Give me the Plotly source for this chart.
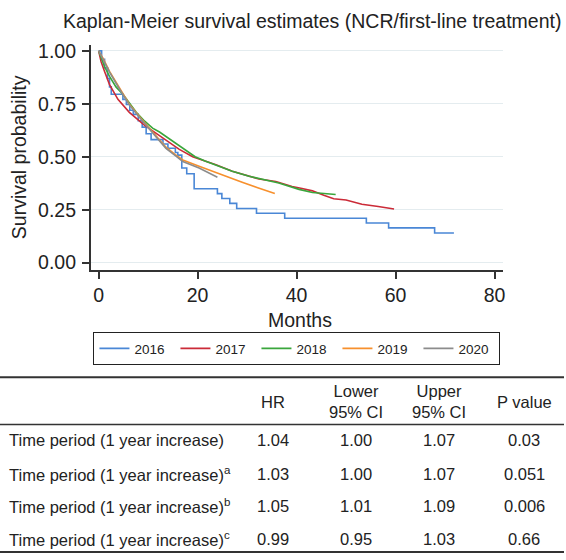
import plotly.graph_objects as go

W, H = 566, 560
FONT = "Liberation Sans, Arial, Helvetica, sans-serif"

# ---------------- data ----------------
years = ["2016", "2017", "2018", "2019", "2020"]
colors = ["#4a87d6", "#cb2b38", "#3aa63c", "#f7902d", "#8c8c8c"]

t_2016 = [0, 0.6, 1.2, 1.8, 2.2, 2.55, 4.9, 5.6, 6.3, 7.0, 8.0, 8.8, 9.6, 10.6, 13.0, 14.0, 15.5, 16.0,
          16.8, 17.8, 19.3, 24.0, 24.9, 26.5, 27.9, 31.9, 37.6, 54.1, 58.6, 67.9, 71.8]
s_2016 = [1.0, 0.96, 0.92, 0.87, 0.83, 0.795, 0.771, 0.747, 0.72, 0.70, 0.67, 0.64, 0.609, 0.581, 0.56,
          0.54, 0.52, 0.508, 0.447, 0.42, 0.349, 0.326, 0.303, 0.28, 0.256, 0.233, 0.21, 0.187, 0.164,
          0.14, 0.14]

t_2017 = [0, 0.5, 1.2, 2.2, 3.9, 6.2, 9.3, 11.6, 13.6, 16.3, 19.0, 22.4, 23.7, 27.0, 30.4, 32.4,
          35.8, 39.1, 41.1, 43.2, 45.5, 47.5, 50.0, 53.2, 56.5, 59.7]
s_2017 = [1.0, 0.949, 0.903, 0.841, 0.771, 0.71, 0.648, 0.61, 0.578, 0.535, 0.50, 0.475, 0.462, 0.432,
          0.408, 0.395, 0.383, 0.36, 0.35, 0.339, 0.318, 0.302, 0.296, 0.276, 0.265, 0.253]

t_2018 = [0, 0.5, 1.2, 2.2, 3.5, 4.9, 6.2, 7.6, 9.3, 10.9, 12.3, 14.3, 16.3, 18.0, 19.5, 21.5, 23.7,
          27.0, 30.4, 33.5, 36.4, 40.5, 43.2, 47.9]
s_2018 = [1.0, 0.965, 0.925, 0.88, 0.83, 0.795, 0.752, 0.71, 0.668, 0.635, 0.617, 0.585, 0.555, 0.525,
          0.50, 0.48, 0.462, 0.432, 0.408, 0.39, 0.376, 0.346, 0.331, 0.322]

t_2019 = [0, 0.9, 2.2, 4.2, 6.2, 8.9, 11.5, 13.6, 15.5, 17.0, 20.3, 23.7, 27.0, 29.0, 32.0, 35.6]
s_2019 = [1.0, 0.965, 0.903, 0.826, 0.748, 0.671, 0.60, 0.545, 0.51, 0.485, 0.455, 0.425, 0.395, 0.38,
          0.355, 0.326]

t_2020 = [0, 0.9, 2.2, 4.2, 6.2, 8.9, 11.5, 13.6, 15.5, 17.0, 20.3, 22.0, 24.0]
s_2020 = [1.0, 0.96, 0.90, 0.82, 0.745, 0.668, 0.60, 0.54, 0.505, 0.478, 0.447, 0.425, 0.403]

times = [t_2016, t_2017, t_2018, t_2019, t_2020]
survs = [s_2016, s_2017, s_2018, s_2019, s_2020]
shapes_line = ["hv", "linear", "linear", "linear", "linear"]

x_ticks = [0, 20, 40, 60, 80]
y_ticks = [0, 0.25, 0.5, 0.75, 1.0]

table_header = ["HR", "Lower<br>95% CI", "Upper<br>95% CI", "P value"]
row_labels = ["Time period (1 year increase)",
              "Time period (1 year increase)<sup>a</sup>",
              "Time period (1 year increase)<sup>b</sup>",
              "Time period (1 year increase)<sup>c</sup>"]
hr = ["1.04", "1.03", "1.05", "0.99"]
lower_ci = ["1.00", "1.00", "1.01", "0.95"]
upper_ci = ["1.07", "1.07", "1.09", "1.03"]
p_value = ["0.03", "0.051", "0.006", "0.66"]


# ---------------- helpers (pixel -> paper) ----------------
def X(px):
    return px / W


def Y(py):
    return 1 - py / H


fig = go.Figure()
for yr, c, t, s, sh in zip(years, colors, times, survs, shapes_line):
    fig.add_trace(go.Scatter(x=t, y=s, mode="lines", name=yr,
                             line=dict(color=c, width=1.6, shape=sh)))

axis_col = "#333333"
txt_col = "#222222"
fig.update_layout(
    width=W, height=H,
    margin=dict(l=0, r=0, t=0, b=0),
    paper_bgcolor="white", plot_bgcolor="white",
    font=dict(family=FONT, color=txt_col),
    showlegend=True,
    legend=dict(orientation="h", x=X(298), xanchor="center", y=Y(332), yanchor="top",
                bordercolor="#222222", borderwidth=1, font=dict(size=13.5, family=FONT),
                itemwidth=30, entrywidth=36, entrywidthmode="pixels", tracegroupgap=0,
                bgcolor="white"),
    xaxis=dict(domain=[X(91), X(505)], range=[-1.61, 81.76], tickvals=x_ticks,
               showgrid=False, zeroline=False, showline=True, linecolor=axis_col, linewidth=1.5,
               ticks="outside", ticklen=7, tickwidth=1.5, tickcolor=axis_col,
               tickfont=dict(size=19.5, family=FONT, color=txt_col), ticklabelstandoff=0),
    yaxis=dict(domain=[Y(268.7), Y(40)], range=[-0.0343, 1.0265], tickvals=y_ticks,
               tickformat=".2f", showgrid=True, gridcolor="#e4ecef", gridwidth=1,
               zeroline=False, showline=True, linecolor=axis_col, linewidth=1.5,
               ticks="outside", ticklen=7, tickwidth=1.5, tickcolor=axis_col,
               tickfont=dict(size=19.5, family=FONT, color=txt_col), ticklabelstandoff=2),
)

ann = []
# title
ann.append(dict(text="Kaplan-Meier survival estimates (NCR/first-line treatment)",
                x=X(313), y=Y(15), xanchor="center", yanchor="middle",
                font=dict(size=19.5, family=FONT, color=txt_col)))
# axis titles
ann.append(dict(text="Survival probability", x=X(19), y=Y(154), textangle=-90,
                xanchor="center", yanchor="middle", font=dict(size=19.5, family=FONT, color=txt_col)))
ann.append(dict(text="Months", x=X(300.7), y=Y(320), xanchor="center", yanchor="middle",
                font=dict(size=19.5, family=FONT, color=txt_col)))

# table
col_x = [274, 357, 441, 526]
tfont = dict(size=16.5, family=FONT, color=txt_col)
for cx, h in zip(col_x, table_header):
    ann.append(dict(text=h, x=X(cx), y=Y(403), xanchor="center", yanchor="middle", font=tfont))
row_y = [442, 476, 509, 543]
for i, ry in enumerate(row_y):
    ann.append(dict(text=row_labels[i], x=X(7), y=Y(ry), xanchor="left", yanchor="middle", font=tfont))
    for cx, v in zip(col_x, [hr[i], lower_ci[i], upper_ci[i], p_value[i]]):
        ann.append(dict(text=v, x=X(cx), y=Y(ry), xanchor="center", yanchor="middle", font=tfont))
for a in ann:
    a.update(xref="paper", yref="paper", showarrow=False)
fig.update_layout(annotations=ann)

rules = [(378, 2.0), (426, 1.5), (556, 2.0)]
shapes = []
for ry, lw in rules:
    shapes.append(dict(type="line", xref="paper", yref="paper", x0=0, x1=1, y0=Y(ry), y1=Y(ry),
                       line=dict(color="#333333", width=lw)))
fig.update_layout(shapes=shapes)

fig.write_html("out.html")
